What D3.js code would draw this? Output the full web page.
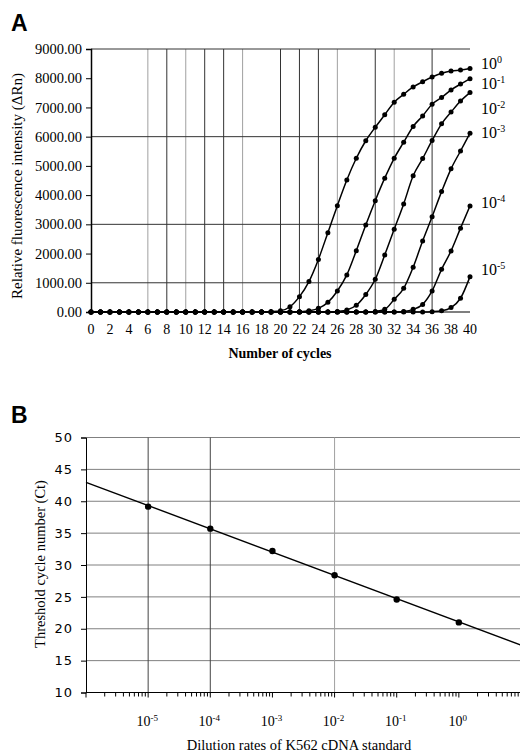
<!DOCTYPE html>
<html>
<head>
<meta charset="utf-8">
<script src="https://cdn.jsdelivr.net/npm/d3@7"></script>
<style>
  html, body { margin: 0; padding: 0; background: #fff; }
  svg { display: block; }
</style>
</head>
<body>
<svg id="chart" width="520" height="753"></svg>
<script>
// ---------------- DATA ----------------
// Panel A: amplification curves (cycle 0..40)
const cycles = [0,1,2,3,4,5,6,7,8,9,10,11,12,13,14,15,16,17,18,19,20,
                21,22,23,24,25,26,27,28,29,30,31,32,33,34,35,36,37,38,39,40];
const seriesNames = ["0", "-1", "-2", "-3", "-4", "-5"];
const s_e0  = [0,0,0,0,0,0,0,0,0,0,0,0,0,0,0,0,0,0,0,10,40,180,525,1040,1800,2715,3640,4520,5260,5860,6320,6750,7180,7450,7700,7880,8040,8170,8250,8280,8330];
const s_e1  = [0,0,0,0,0,0,0,0,0,0,0,0,0,0,0,0,0,0,0,0,0,0,10,40,125,330,720,1270,2100,2980,3810,4580,5260,5810,6350,6710,7110,7340,7600,7800,7980];
const s_e2  = [0,0,0,0,0,0,0,0,0,0,0,0,0,0,0,0,0,0,0,0,0,0,0,0,0,0,20,70,230,600,1120,1950,2830,3700,4660,5250,5870,6440,6840,7220,7510];
const s_e3  = [0,0,0,0,0,0,0,0,0,0,0,0,0,0,0,0,0,0,0,0,0,0,0,0,0,0,0,0,0,0,20,90,435,810,1530,2430,3260,4120,4900,5510,6120];
const s_e4  = [0,0,0,0,0,0,0,0,0,0,0,0,0,0,0,0,0,0,0,0,0,0,0,0,0,0,0,0,0,0,0,0,0,20,90,260,720,1460,2090,2870,3630];
const s_e5  = [0,0,0,0,0,0,0,0,0,0,0,0,0,0,0,0,0,0,0,0,0,0,0,0,0,0,0,0,0,0,0,0,0,0,0,0,10,40,150,470,1210];
const seriesValues = [s_e0, s_e1, s_e2, s_e3, s_e4, s_e5];
// level (in ΔRn units) at which each curve's label sits at the right
const labelLevels = [8320, 7640, 6780, 5960, 3560, 1270];
const yTicksA = [0,1000,2000,3000,4000,5000,6000,7000,8000,9000];
const xTicksA = [0,2,4,6,8,10,12,14,16,18,20,22,24,26,28,30,32,34,36,38,40];
const hGridA = [1000, 3000, 6000, 9000];
const vGridA = [6,8,10,12,14,16,20,22,24,26,30,32,36];
const vGridALight = [6,10,16,26,32];

// Panel B: standard curve
const dilution = [1e-5, 1e-4, 1e-3, 1e-2, 1e-1, 1e0];
const ctValues = [39.15, 35.7, 32.2, 28.4, 24.6, 21.0];
const dilutionExp = ["-5", "-4", "-3", "-2", "-1", "0"];
const trendX = [1e-6, 1e1];
const trendY = [42.97, 17.45];
const yTicksB = [10,15,20,25,30,35,40,45,50];
const hGridB = [15,20,25,30,35,40,45,50];
const vGridB = [1e-5, 1e-4, 1e-2];
const vGridBLight = [1e-2];

// ---------------- DRAW ----------------
const svg = d3.select("#chart");
const SERIF = "Liberation Serif, Times New Roman, serif";

// ===== Panel A =====
const xA = d3.scaleLinear().domain([0, 40]).range([91, 470]);
const yA = d3.scaleLinear().domain([0, 9000]).range([312, 49]);

svg.append("text").attr("x", 11).attr("y", 31)
  .attr("font-family", "Liberation Sans, Arial, sans-serif")
  .attr("font-weight", "bold").attr("font-size", 23).text("A");

const gA = svg.append("g");
// grid
gA.selectAll("line.vg").data(vGridA).enter().append("line")
  .attr("x1", d => xA(d)).attr("x2", d => xA(d))
  .attr("y1", yA(9000)).attr("y2", yA(0))
  .attr("stroke", d => vGridALight.includes(d) ? "#a0a0a0" : "#333")
  .attr("stroke-width", 1);
gA.selectAll("line.hg").data(hGridA).enter().append("line")
  .attr("x1", xA(0)).attr("x2", xA(40))
  .attr("y1", d => yA(d)).attr("y2", d => yA(d))
  .attr("stroke", "#333").attr("stroke-width", 1);

// y axis
const axisYA = d3.axisLeft(yA).tickValues(yTicksA).tickSize(5).tickPadding(4)
  .tickFormat(d => d3.format(".2f")(d));
const gyA = gA.append("g").attr("transform", `translate(${xA(0)},0)`).call(axisYA);
gyA.select(".domain").attr("stroke", "#000").attr("stroke-width", 1.5);
gyA.selectAll(".tick line").attr("stroke", "#000");
gyA.selectAll(".tick text").attr("font-size", 14.5)
  .attr("fill", "#000").attr("font-family", SERIF);

// x axis
gA.append("line").attr("x1", xA(0)).attr("x2", xA(40))
  .attr("y1", yA(0)).attr("y2", yA(0)).attr("stroke", "#000").attr("stroke-width", 1.2);
gA.selectAll("text.xt").data(xTicksA).enter().append("text")
  .attr("x", d => xA(d)).attr("y", 334)
  .attr("text-anchor", "middle").attr("font-family", SERIF)
  .attr("font-size", 14).text(d => d);

svg.append("text").attr("x", 280).attr("y", 358).attr("text-anchor", "middle")
  .attr("font-family", SERIF).attr("font-size", 14)
  .attr("font-weight", "bold").text("Number of cycles");
svg.append("text").attr("transform", "translate(22,186) rotate(-90)")
  .attr("text-anchor", "middle").attr("font-family", SERIF)
  .attr("font-size", 15).text("Relative fluorescence intensity (ΔRn)");

// curves
const lineA = d3.line().x((d, i) => xA(cycles[i])).y(d => yA(d)).curve(d3.curveMonotoneX);
seriesValues.forEach((vals) => {
  gA.append("path").datum(vals).attr("d", lineA)
    .attr("fill", "none").attr("stroke", "#000").attr("stroke-width", 1.5);
  gA.selectAll(null).data(vals).enter().append("circle")
    .attr("cx", (d, i) => xA(cycles[i])).attr("cy", d => yA(d))
    .attr("r", 2.5).attr("fill", "#000");
});
// labels
seriesNames.forEach((n, i) => {
  const t = svg.append("text").attr("x", 481).attr("y", yA(labelLevels[i]))
    .attr("font-family", SERIF).attr("font-size", 16);
  t.append("tspan").text("10");
  t.append("tspan").attr("dy", -6).attr("font-size", 10).text(n);
});

// ===== Panel B =====
const xB = d3.scaleLog().domain([1e-6, 1e1]).range([86, 521]);
const yB = d3.scaleLinear().domain([10, 50]).range([692.5, 437.5]);

svg.append("text").attr("x", 11).attr("y", 423)
  .attr("font-family", "Liberation Sans, Arial, sans-serif")
  .attr("font-weight", "bold").attr("font-size", 23).text("B");

const gB = svg.append("g");
gB.selectAll("line.hg").data(hGridB).enter().append("line")
  .attr("x1", xB(1e-6)).attr("x2", 520)
  .attr("y1", d => yB(d)).attr("y2", d => yB(d))
  .attr("stroke", "#808080").attr("stroke-width", 1);
gB.selectAll("line.vg").data(vGridB).enter().append("line")
  .attr("x1", d => xB(d)).attr("x2", d => xB(d))
  .attr("y1", yB(50)).attr("y2", yB(10))
  .attr("stroke", d => vGridBLight.includes(d) ? "#a0a0a0" : "#444").attr("stroke-width", 1);

// y axis
const axisYB = d3.axisLeft(yB).tickValues(yTicksB).tickSize(5).tickPadding(8);
const gyB = gB.append("g").attr("transform", `translate(${xB(1e-6)},0)`).call(axisYB);
gyB.select(".domain").attr("stroke", "#000");
gyB.selectAll(".tick line").attr("stroke", "#000");
gyB.selectAll(".tick text").attr("font-family", "DejaVu Sans, Verdana, sans-serif")
  .attr("font-size", 13).attr("letter-spacing", 1).attr("fill", "#000");

// x axis (log, minor ticks)
gB.append("line").attr("x1", xB(1e-6)).attr("x2", 520)
  .attr("y1", yB(10)).attr("y2", yB(10)).attr("stroke", "#000").attr("stroke-width", 1.2);
const minorTicks = xB.ticks().filter(d => xB(d) <= 520);
gB.selectAll("line.mt").data(minorTicks).enter().append("line")
  .attr("x1", d => xB(d)).attr("x2", d => xB(d))
  .attr("y1", yB(10)).attr("y2", d => yB(10) + (Math.abs(Math.log10(d) - Math.round(Math.log10(d))) < 1e-9 ? 5 : 4))
  .attr("stroke", "#000").attr("stroke-width", 1);
dilution.forEach((d, i) => {
  const t = gB.append("text").attr("x", xB(d) - 1).attr("y", 726)
    .attr("text-anchor", "middle").attr("font-family", SERIF).attr("font-size", 14);
  t.append("tspan").text("10");
  t.append("tspan").attr("dy", -5).attr("font-size", 9).text(dilutionExp[i]);
});

svg.append("text").attr("x", 299).attr("y", 750).attr("text-anchor", "middle")
  .attr("font-family", SERIF).attr("font-size", 14.5)
  .text("Dilution rates of K562 cDNA standard");
svg.append("text").attr("transform", "translate(45,564) rotate(-90)")
  .attr("text-anchor", "middle").attr("font-family", SERIF)
  .attr("font-size", 14.5).text("Threshold cycle number (Ct)");

// trend line
const lineB = d3.line().x((d, i) => xB(trendX[i])).y(d => yB(d));
gB.append("path").datum(trendY).attr("d", lineB)
  .attr("fill", "none").attr("stroke", "#000").attr("stroke-width", 1.4);
gB.selectAll("circle").data(ctValues).enter().append("circle")
  .attr("cx", (d, i) => xB(dilution[i])).attr("cy", d => yB(d))
  .attr("r", 3.2).attr("fill", "#000");
</script>
</body>
</html>
